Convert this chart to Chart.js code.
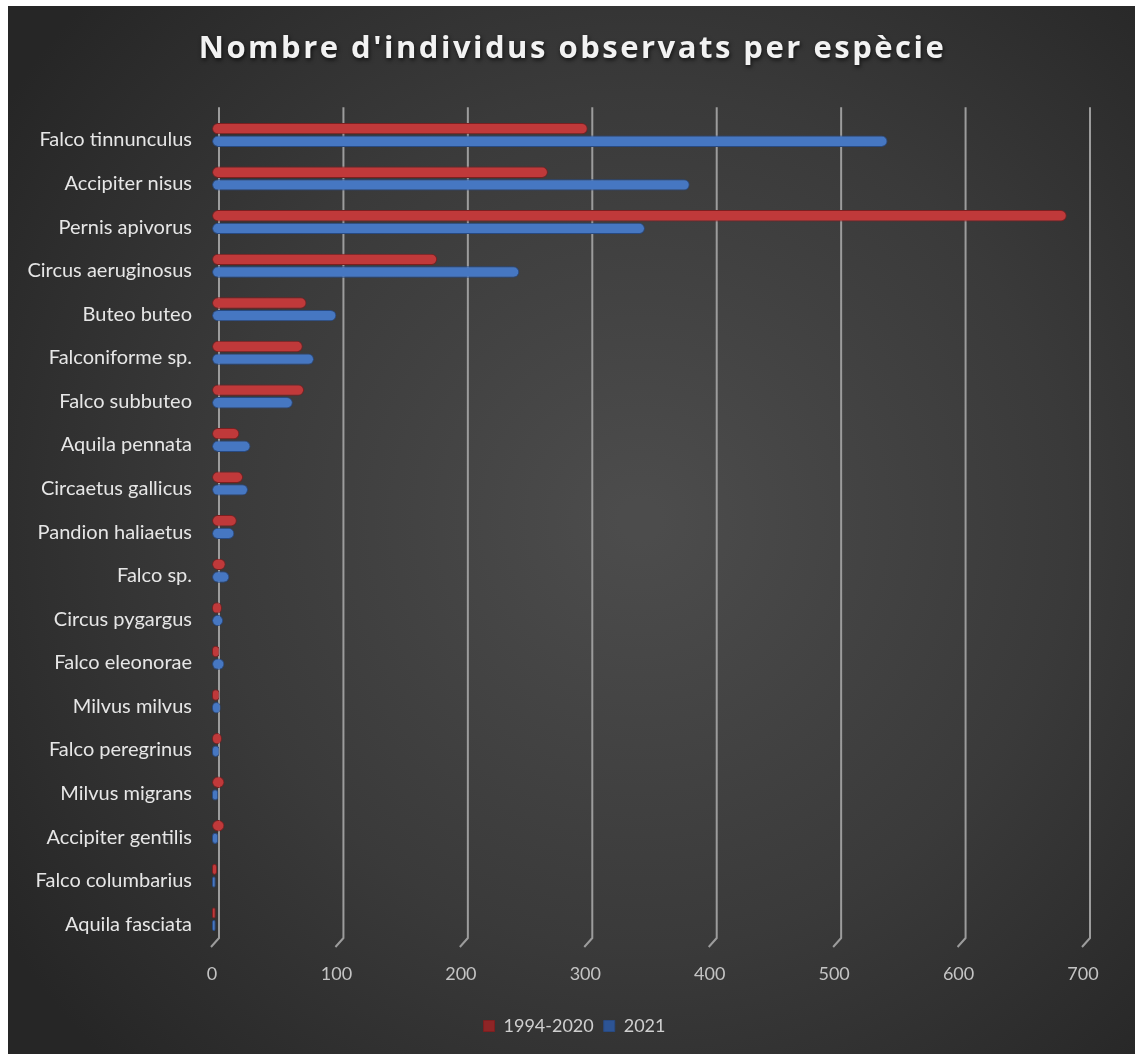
<!DOCTYPE html>
<html>
<head>
<meta charset="utf-8">
<script src="https://cdn.jsdelivr.net/npm/chart.js@4.4.1/dist/chart.umd.min.js"></script>
<style>
  html, body { margin: 0; padding: 0; background: #ffffff; }
  #wrap { position: absolute; left: 0; top: 0; width: 1135px; height: 1054px; }
</style>
</head>
<body>
<div id="wrap"><canvas id="c" width="1135" height="1054"></canvas></div>
<script>
const categories = [
  "Falco tinnunculus", "Accipiter nisus", "Pernis apivorus", "Circus aeruginosus",
  "Buteo buteo", "Falconiforme sp.", "Falco subbuteo", "Aquila pennata",
  "Circaetus gallicus", "Pandion haliaetus", "Falco sp.", "Circus pygargus",
  "Falco eleonorae", "Milvus milvus", "Falco peregrinus", "Milvus migrans",
  "Accipiter gentilis", "Falco columbarius", "Aquila fasciata"
];
const seriesNames = ["1994-2020", "2021"];
const values19942020 = [302, 270, 687, 181, 76, 73, 74, 22, 25, 20, 11, 8, 6, 6, 8, 10, 10, 4, 3];
const values2021     = [543, 384, 348, 247, 100, 82, 65, 31, 29, 18, 14, 9, 10, 7, 6, 5, 5, 3, 3];
const xTicks = [0, 100, 200, 300, 400, 500, 600, 700];

const FONT = "Lato, 'Open Sans', sans-serif";
const TITLE_FONT = "'Open Sans', Lato, sans-serif";

const bgPlugin = {
  id: 'bg',
  beforeDraw(chart) {
    const ctx = chart.ctx;
    ctx.save();
    ctx.fillStyle = '#ffffff';
    ctx.fillRect(0, 0, chart.width, chart.height);
    const g = ctx.createRadialGradient(640, 520, 20, 640, 520, 760);
    g.addColorStop(0, '#4c4c4c');
    g.addColorStop(0.55, '#3a3a3a');
    g.addColorStop(1, '#262626');
    ctx.fillStyle = g;
    ctx.fillRect(8, 6, chart.width - 8, chart.height - 6);
    ctx.restore();
  }
};

const boxShiftPlugin = {
  id: 'boxShift',
  afterInit(chart) {
    const tb = chart.titleBlock;
    if (tb) {
      const orig = tb.draw.bind(tb);
      tb.draw = function (area) {
        const ctx = chart.ctx;
        ctx.save();
        ctx.translate(31, 3);
        ctx.letterSpacing = '2.5px';
        ctx.shadowColor = 'rgba(0,0,0,0.7)';
        ctx.shadowBlur = 4;
        ctx.shadowOffsetX = 1;
        ctx.shadowOffsetY = 2;
        orig(area);
        ctx.restore();
      };
    }
    const lb = chart.legend;
    if (lb) {
      const origL = lb.draw.bind(lb);
      lb.draw = function (area) {
        const ctx = chart.ctx;
        ctx.save();
        ctx.translate(33, 0);
        origL(area);
        ctx.restore();
      };
    }
  }
};

const gridPlugin = {
  id: 'grid3d',
  beforeDatasetsDraw(chart) {
    const ctx = chart.ctx;
    const x = chart.scales.x;
    const a = chart.chartArea;
    ctx.save();
    ctx.strokeStyle = '#9c9c9c';
    ctx.lineWidth = 2;
    for (const t of x.ticks) {
      const px = x.getPixelForValue(t.value);
      ctx.beginPath();
      ctx.moveTo(px + 7, a.top - 6);
      ctx.lineTo(px + 7, a.bottom - 3);
      ctx.lineTo(px - 1, a.bottom + 6);
      ctx.stroke();
    }
    ctx.restore();
  }
};

function barFill(base, light, dark) {
  return (context) => {
    const chart = context.chart;
    const el = context.element;
    if (!el || el.y === undefined || !isFinite(el.y)) return base;
    const h = el.height || 11;
    const g = chart.ctx.createLinearGradient(0, el.y - h / 2, 0, el.y + h / 2);
    g.addColorStop(0, dark);
    g.addColorStop(0.25, light);
    g.addColorStop(0.6, base);
    g.addColorStop(1, dark);
    return g;
  };
}

new Chart(document.getElementById('c'), {
  type: 'bar',
  data: {
    labels: categories,
    datasets: [
      {
        label: seriesNames[0],
        data: values19942020,
        backgroundColor: barFill('#c0393a', '#d65556', '#8e2526'),
        borderColor: '#7d1f20',
        borderWidth: 1,
        borderRadius: 6,
        borderSkipped: false,
        categoryPercentage: 0.58,
        barPercentage: 0.9
      },
      {
        label: seriesNames[1],
        data: values2021,
        backgroundColor: barFill('#4677c2', '#5e8fd6', '#2d5494'),
        borderColor: '#284a82',
        borderWidth: 1,
        borderRadius: 6,
        borderSkipped: false,
        categoryPercentage: 0.58,
        barPercentage: 0.9
      }
    ]
  },
  options: {
    indexAxis: 'y',
    responsive: false,
    animation: false,
    devicePixelRatio: 1,
    layout: { padding: { top: 6, right: 52, bottom: 9, left: 0 } },
    plugins: {
      title: {
        display: true,
        text: "Nombre d'individus observats per espècie",
        color: '#f2f2f2',
        font: { family: TITLE_FONT, size: 31, weight: 'bold' },
        padding: { top: 22, bottom: 48 }
      },
      legend: {
        position: 'bottom',
        labels: {
          color: '#cfcfcf',
          font: { family: FONT, size: 18 },
          boxWidth: 11,
          boxHeight: 11,
          padding: 10
        }
      },
      tooltip: { enabled: false }
    },
    scales: {
      x: {
        min: 0,
        max: 700,
        afterBuildTicks(scale) { scale.ticks = xTicks.map(v => ({ value: v })); },
        afterFit(scale) { scale.height = 66; },
        grid: { display: false, drawTicks: false },
        border: { display: false },
        ticks: {
          color: '#c4c4c4',
          font: { family: FONT, size: 18 },
          padding: 22,
          maxRotation: 0
        }
      },
      y: {
        afterFit(scale) { scale.width = 212; },
        grid: { display: false, drawTicks: false },
        border: { display: false },
        ticks: {
          color: '#e6e6e6',
          font: { family: FONT, size: 20 },
          padding: 20,
          labelOffset: 5,
          autoSkip: false
        }
      }
    }
  },
  plugins: [bgPlugin, boxShiftPlugin, gridPlugin]
});
</script>
</body>
</html>
